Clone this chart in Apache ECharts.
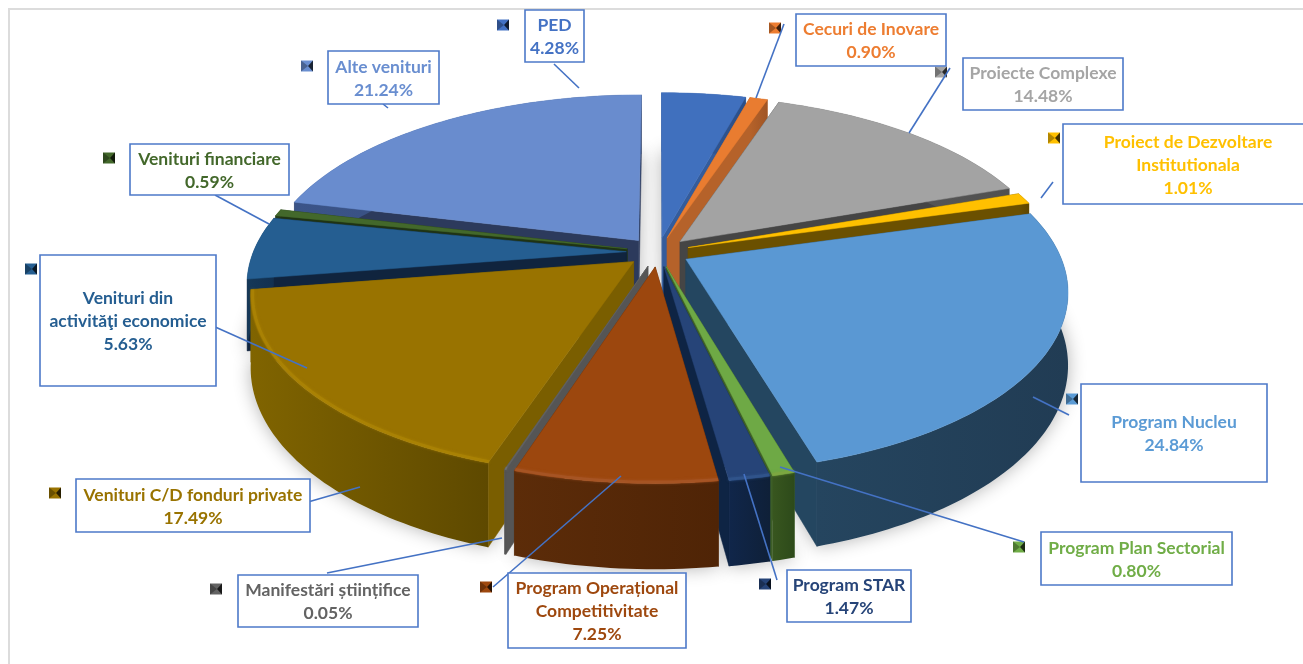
<!DOCTYPE html>
<html><head><meta charset="utf-8">
<style>html,body{margin:0;padding:0;background:#fff;overflow:hidden}#c{width:1303px;height:664px}</style>
<script src="https://cdn.jsdelivr.net/npm/echarts@6/dist/echarts.min.js"></script>
</head><body><div id="c"></div>
<script>
// ---- data ----
const categories = ['PED','Cecuri de Inovare','Proiecte Complexe','Proiect de Dezvoltare Institutionala','Program Nucleu','Program Plan Sectorial','Program STAR','Program Operațional Competitivitate','Manifestări științifice','Venituri C/D fonduri private','Venituri din activităţi economice','Venituri financiare','Alte venituri'];
const values = [4.28,0.90,14.48,1.01,24.84,0.80,1.47,7.25,0.05,17.49,5.63,0.59,21.24];
const labelNames = ['PED','Cecuri de Inovare','Proiecte Complexe','Proiect de Dezvoltare\nInstitutionala','Program Nucleu','Program Plan Sectorial','Program STAR','Program Operațional\nCompetitivitate','Manifestări științifice','Venituri C/D fonduri private','Venituri din\nactivităţi economice','Venituri financiare','Alte venituri'];
// ---- colours ----
const topColors  = ['#4070BE','#E97C30','#A3A3A3','#FFC000','#5A98D3','#6EA945','#264478','#9C470E','#636363','#997300','#255E91','#43682B','#698CCE'];
const sideColors = ['#345C9C','#B5622A','#454545','#6B5000','#244660','#3D5E27','#0E2444','#5A2A08','#555555','#7A5E00','#10243E','#1F3314','#2C3A5C'];
const wallFrom   = ['#345C9C','#B5622A','#5E5E5E','#6B5000','#25455F','#38561F','#10264A','#5C2C09','#5C5C5C','#806400','#153858','#28401A','#3B5488'];
const wallTo     = ['#2C4F88','#A05525','#505050','#5E4600','#213C54','#2D4A1A','#0F2038','#4F2406','#4F4F4F','#5E4900','#123050','#223616','#334A78'];
const textColors = ['#4472C4','#ED7D31','#A5A5A5','#FFC000','#5B9BD5','#70AD47','#264478','#9E480E','#636363','#997300','#255E91','#43682B','#698ED0'];
const bevel      = [0,0,0,0,0,'#7FA640','#33588F','#A9582A','#777','#AD8606',0,0,0];
// ---- label layout [x0,y0,x1,y1] ----
const boxes = [[525,10,584,62],[796,14,946,66],[963,58,1123,110],[1063,124,1313,204],[1081,384,1267,482],[1041,532,1232,585],[787,570,911,622],[508,573,686,648],[238,575,418,627],[76,479,310,532],[40,255,216,386],[130,144,289,195],[328,51,439,104]];
const keys = [[503,25],[775,28],[941,72],[1054,138],[1072,399],[1019,547],[765,584],[486,587],[216,589],[55,493],[31,269],[109,158],[307,66]];
const leaders = [[554,64,579,88],[784,24,756,98],[950,68,909,133],[1053,182,1041,198],[1069,415,1033,397],[1024,542,780,467],[777,580,744,474],[493,587,621,476],[327,573,502,538],[308,502,360,487],[213,326,307,368],[215,195,269,224],[383,104,388,108]];
// ---- projection ----
const P = {cx:658, cy:252, A:373, B:174, D:70, k:0.17, e:0.085};
const total = values.reduce((a,b)=>a+b,0);
let acc = 0;
const spans = values.map(v=>{const a0=acc/total*2*Math.PI; acc+=v; return [a0, acc/total*2*Math.PI];});
const rank = spans.map((s,i)=>({i,v:-Math.cos((s[0]+s[1])/2)})).sort((a,b)=>a.v-b.v).reduce((m,o,r)=>{m[o.i]=r;return m;},{});
function proj(i,th,r,z){
  const s=spans[i], m=(s[0]+s[1])/2;
  const u=P.e*Math.sin(m)+r*Math.sin(th), v=-P.e*Math.cos(m)-r*Math.cos(th);
  const q=1/(1-P.k*v);
  return [P.cx+P.A*u*q, P.cy+(P.B*v+P.D*z)*q];
}
function arc(i,z,r){
  const s=spans[i], n=Math.max(3,Math.ceil((s[1]-s[0])/0.02)), out=[];
  for(let j=0;j<=n;j++) out.push(proj(i,s[0]+(s[1]-s[0])*j/n,r===undefined?1:r,z));
  return out;
}
function renderPie(params,api){
  const i=params.dataIndex, s=spans[i], b=20+rank[i]*10, ch=[];
  const apexT=proj(i,0,0,0), apexB=proj(i,0,0,1);
  const a=arc(i,0), f=arc(i,1);
  const foot=[apexB].concat(f);
  ch.push({type:'polygon',z2:1,shape:{points:foot},style:{fill:'#e6e6e6',shadowBlur:18,shadowColor:'rgba(0,0,0,0.30)'},silent:true});
  const wall=(e,t)=>({type:'polygon',z2:b+1,shape:{points:[apexT,e,t,apexB]},style:{fill:sideColors[i],stroke:sideColors[i],lineWidth:0.5},silent:true});
  const w0=wall(a[0],f[0]), w1=wall(a[a.length-1],f[f.length-1]);
  const startFaces=-Math.sin(s[0])>0;
  w0.z2=b+(startFaces?2:1); w1.z2=b+(startFaces?1:2);
  ch.push(w0,w1);
  ch.push({type:'polygon',z2:b+3,shape:{points:a.concat(f.slice().reverse())},style:{fill:{type:'linear',x:0,y:0,x2:1,y2:0,colorStops:[{offset:0,color:wallFrom[i]},{offset:1,color:wallTo[i]}]}},silent:true});
  ch.push({type:'polygon',z2:b+4,shape:{points:[apexT].concat(a)},style:{fill:topColors[i],stroke:topColors[i],lineWidth:0.5},silent:true});
  if(bevel[i]) ch.push({type:'polyline',z2:b+5,shape:{points:arc(i,0.0,0.995)},style:{stroke:bevel[i],lineWidth:3,fill:'none',opacity:0.65,shadowBlur:3,shadowColor:bevel[i]},silent:true});
  return {type:'group',children:ch};
}
function renderLabels(params,api){
  const i=params.dataIndex, box=boxes[i], k=keys[i], l=leaders[i], ch=[];
  const cx=(box[0]+box[2])/2, cy=(box[1]+box[3])/2+1;
  const x=k[0]-6,y=k[1]-5.5,w=12,h=11,mx=k[0]+1,my=k[1];
  ch.push({type:'rect',z2:500,shape:{x,y,width:w,height:h},style:{fill:textColors[i]}});
  ch.push({type:'polygon',z2:501,shape:{points:[[x+w,y],[x+w,y+h],[mx,my]]},style:{fill:'rgba(0,0,0,0.75)'}});
  ch.push({type:'polygon',z2:501,shape:{points:[[x,y],[x,y+h],[mx,my]]},style:{fill:'rgba(0,0,0,0.3)'}});
  ch.push({type:'rect',z2:510,shape:{x:box[0],y:box[1],width:box[2]-box[0],height:box[3]-box[1]},style:{fill:'#fff',stroke:'#4D79C9',lineWidth:1.6}});
  ch.push({type:'line',z2:505,shape:{x1:l[0],y1:l[1],x2:l[2],y2:l[3]},style:{stroke:'#4472C4',lineWidth:1.6}});
  ch.push({type:'text',z2:520,style:{x:cx,y:cy,text:labelNames[i]+'\n'+api.value(0).toFixed(2)+'%',align:'center',verticalAlign:'middle',font:'700 17.5px Lato',lineHeight:23,fill:textColors[i]}});
  return {type:'group',children:ch};
}
const chart=echarts.init(document.getElementById('c'),null,{renderer:'canvas'});
const rows=values.map((v,i)=>({name:categories[i],value:[v]}));
chart.setOption({
  animation:false,backgroundColor:'#fff',tooltip:{show:false},
  graphic:[{type:'polyline',z:-1,shape:{points:[[9,670],[9,9],[1310,9]]},style:{stroke:'#DCDCDC',fill:'none',lineWidth:2},silent:true}],
  series:[
    {type:'custom',name:'Venituri',coordinateSystem:'none',silent:true,clip:false,data:rows,renderItem:renderPie,z:2},
    {type:'custom',name:'Etichete',coordinateSystem:'none',silent:true,clip:false,data:rows,renderItem:renderLabels,z:3}
  ]
});
</script></body></html>
